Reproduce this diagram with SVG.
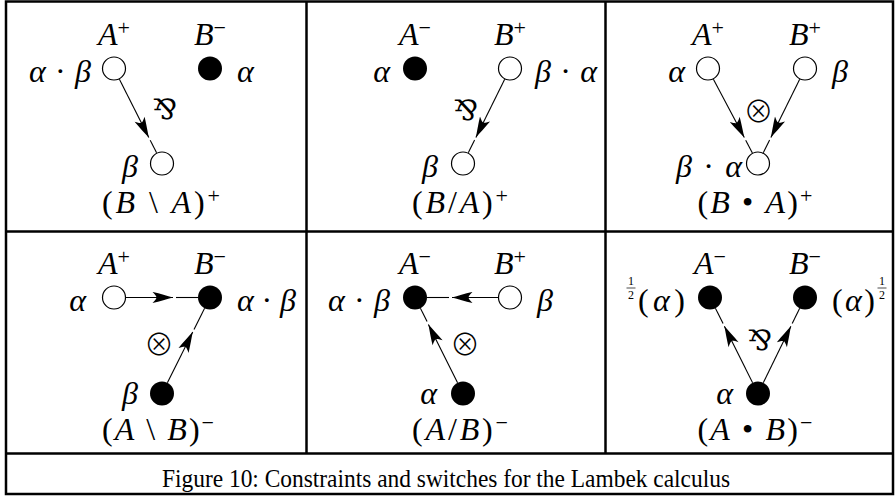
<svg xmlns="http://www.w3.org/2000/svg" width="896" height="496" viewBox="0 0 896 496">
<style>
.t{font-family:"Liberation Serif",serif;font-size:32px;fill:#000}
.i{font-style:italic}
.sup{font-size:22px}
.par{font-family:"DejaVu Serif","DejaVu Sans",serif;font-size:28px;fill:#000}
.ot{font-family:"Noto Sans CJK SC","DejaVu Sans",sans-serif;font-weight:300;font-size:30px;fill:#000}
.fr{font-family:"Liberation Serif",serif;font-size:12px;fill:#000}
.cap{font-family:"Liberation Serif",serif;font-size:25px;fill:#000}
.open{fill:#fff;stroke:#000;stroke-width:1.2}
.full{fill:#000}
.edge{stroke:#000;stroke-width:1.1;fill:none}
.ar{marker-end:url(#ah)}
.frame{stroke:#000;stroke-width:2.5;fill:none}
</style>
<defs>
<marker id="ah" viewBox="-22 -6 23 12" refX="0" refY="0" markerWidth="23" markerHeight="12" markerUnits="userSpaceOnUse" orient="auto">
<path d="M0,0 C-6,-1.7 -13,-3.8 -20.5,-5.6 C-17.5,-2.5 -16.5,-1 -16.5,0 C-16.5,1 -17.5,2.5 -20.5,5.6 C-13,3.8 -6,1.7 0,0 Z" fill="#000"/>
</marker>
</defs>
<rect width="896" height="496" fill="#fff"/>
<g id="frame" class="frame">
<rect x="6" y="1.5" width="887" height="492.5"/>
<line x1="6" y1="231.5" x2="893" y2="231.5"/>
<line x1="6" y1="453.5" x2="893" y2="453.5"/>
<line x1="306.5" y1="1.5" x2="306.5" y2="453.5"/>
<line x1="605.5" y1="1.5" x2="605.5" y2="453.5"/>
</g>
<g id="connectors">
<!-- cell 1 -->
<line class="edge ar" x1="119.4" y1="79.2" x2="148.8" y2="137.5"/>
<line class="edge" x1="150.2" y1="140.2" x2="156.6" y2="152.8"/>
<text class="par" x="165" y="119" text-anchor="middle">⅋</text>
<!-- cell 2 -->
<line class="edge ar" x1="504.7" y1="79.3" x2="475.9" y2="137.4"/>
<line class="edge" x1="474.6" y1="140.1" x2="468.3" y2="152.7"/>
<text class="par" x="466" y="120" text-anchor="middle">⅋</text>
<!-- cell 3 -->
<line class="edge ar" x1="713.4" y1="79.2" x2="744.3" y2="137.5"/>
<line class="edge" x1="745.7" y1="140.2" x2="752.4" y2="152.9"/>
<line class="edge ar" x1="799.7" y1="79.3" x2="770.9" y2="137.4"/>
<line class="edge" x1="769.6" y1="140.1" x2="763.3" y2="152.7"/>
<text class="ot" x="758.5" y="122" text-anchor="middle">⊗</text>
<!-- cell 4 -->
<line class="edge ar" x1="126" y1="297.5" x2="173" y2="297.5"/>
<line class="edge" x1="176" y1="297.5" x2="198" y2="297.5"/>
<line class="edge ar" x1="167.4" y1="382.8" x2="192.7" y2="332.1"/>
<line class="edge" x1="194" y1="329.4" x2="204.6" y2="308.2"/>
<text class="ot" x="159" y="355" text-anchor="middle">⊗</text>
<!-- cell 5 -->
<line class="edge ar" x1="498" y1="297.5" x2="452" y2="297.5"/>
<line class="edge" x1="449" y1="297.5" x2="427" y2="297.5"/>
<line class="edge ar" x1="457.6" y1="382.8" x2="428.4" y2="324.4"/>
<line class="edge" x1="427.1" y1="321.6" x2="420.4" y2="308.2"/>
<text class="ot" x="465" y="355" text-anchor="middle">⊗</text>
<!-- cell 6 -->
<line class="edge ar" x1="752.6" y1="382.8" x2="724.4" y2="326.3"/>
<line class="edge" x1="723.1" y1="323.6" x2="715.4" y2="308.2"/>
<line class="edge ar" x1="763.3" y1="382.7" x2="790.9" y2="326.3"/>
<line class="edge" x1="792.2" y1="323.6" x2="799.7" y2="308.3"/>
<text class="par" x="760" y="350" text-anchor="middle">⅋</text>
</g>
<!-- Cell 1 -->
<g id="c1-A">
<circle class="open" cx="114" cy="68.5" r="11.5"/>
<text class="t" x="114" y="45" text-anchor="middle"><tspan class="i">A</tspan><tspan class="sup" dy="-10">+</tspan></text>
<text class="t" x="91" y="82" text-anchor="end" textLength="62" lengthAdjust="spacing"><tspan class="i">α</tspan> · <tspan class="i">β</tspan></text>
</g>
<g id="c1-B">
<circle class="full" cx="210" cy="68.5" r="12"/>
<text class="t" x="210" y="45" text-anchor="middle"><tspan class="i">B</tspan><tspan class="sup" dy="-10">−</tspan></text>
<text class="t i" x="237" y="82">α</text>
</g>
<g id="c1-C">
<circle class="open" cx="162" cy="163.5" r="11.5"/>
<text class="t i" x="138" y="177" text-anchor="end">β</text>
<text class="t" x="161" y="213" text-anchor="middle" textLength="118" lengthAdjust="spacing">(<tspan class="i">B</tspan> \ <tspan class="i">A</tspan>)<tspan class="sup" dy="-10">+</tspan></text>
</g>
<!-- Cell 2 -->
<g id="c2-A">
<circle class="full" cx="415" cy="68.5" r="12"/>
<text class="t" x="415" y="45" text-anchor="middle"><tspan class="i">A</tspan><tspan class="sup" dy="-10">−</tspan></text>
<text class="t i" x="390" y="82" text-anchor="end">α</text>
</g>
<g id="c2-B">
<circle class="open" cx="510" cy="68.5" r="11.5"/>
<text class="t" x="510" y="45" text-anchor="middle"><tspan class="i">B</tspan><tspan class="sup" dy="-10">+</tspan></text>
<text class="t" x="535" y="82" textLength="62" lengthAdjust="spacing"><tspan class="i">β</tspan> · <tspan class="i">α</tspan></text>
</g>
<g id="c2-C">
<circle class="open" cx="463" cy="163.5" r="11.5"/>
<text class="t i" x="438" y="177" text-anchor="end">β</text>
<text class="t" x="460" y="213" text-anchor="middle" textLength="96" lengthAdjust="spacing">(<tspan class="i">B</tspan>/<tspan class="i">A</tspan>)<tspan class="sup" dy="-10">+</tspan></text>
</g>
<!-- Cell 3 -->
<g id="c3-A">
<circle class="open" cx="708" cy="68.5" r="11.5"/>
<text class="t" x="708" y="45" text-anchor="middle"><tspan class="i">A</tspan><tspan class="sup" dy="-10">+</tspan></text>
<text class="t i" x="685" y="82" text-anchor="end">α</text>
</g>
<g id="c3-B">
<circle class="open" cx="805" cy="68.5" r="11.5"/>
<text class="t" x="805" y="45" text-anchor="middle"><tspan class="i">B</tspan><tspan class="sup" dy="-10">+</tspan></text>
<text class="t i" x="832" y="82">β</text>
</g>
<g id="c3-C">
<circle class="open" cx="758" cy="163.5" r="11.5"/>
<text class="t" x="742" y="177" text-anchor="end" textLength="66" lengthAdjust="spacing"><tspan class="i">β</tspan> · <tspan class="i">α</tspan></text>
<text class="t" x="755" y="213" text-anchor="middle" textLength="115" lengthAdjust="spacing">(<tspan class="i">B</tspan> • <tspan class="i">A</tspan>)<tspan class="sup" dy="-10">+</tspan></text>
</g>
<!-- Cell 4 -->
<g id="c4-A">
<circle class="open" cx="114" cy="297.5" r="11.5"/>
<text class="t" x="114" y="274" text-anchor="middle"><tspan class="i">A</tspan><tspan class="sup" dy="-10">+</tspan></text>
<text class="t i" x="86" y="311" text-anchor="end">α</text>
</g>
<g id="c4-B">
<circle class="full" cx="210" cy="297.5" r="12"/>
<text class="t" x="210" y="274" text-anchor="middle"><tspan class="i">B</tspan><tspan class="sup" dy="-10">−</tspan></text>
<text class="t" x="237" y="311" textLength="59" lengthAdjust="spacing"><tspan class="i">α</tspan> · <tspan class="i">β</tspan></text>
</g>
<g id="c4-C">
<circle class="full" cx="162" cy="393.5" r="12"/>
<text class="t i" x="138" y="404" text-anchor="end">β</text>
<text class="t" x="158" y="440" text-anchor="middle" textLength="112" lengthAdjust="spacing">(<tspan class="i">A</tspan> \ <tspan class="i">B</tspan>)<tspan class="sup" dy="-10">−</tspan></text>
</g>
<!-- Cell 5 -->
<g id="c5-A">
<circle class="full" cx="415" cy="297.5" r="12"/>
<text class="t" x="415" y="274" text-anchor="middle"><tspan class="i">A</tspan><tspan class="sup" dy="-10">−</tspan></text>
<text class="t" x="390" y="311" text-anchor="end" textLength="62" lengthAdjust="spacing"><tspan class="i">α</tspan> · <tspan class="i">β</tspan></text>
</g>
<g id="c5-B">
<circle class="open" cx="510" cy="297.5" r="11.5"/>
<text class="t" x="510" y="274" text-anchor="middle"><tspan class="i">B</tspan><tspan class="sup" dy="-10">+</tspan></text>
<text class="t i" x="537" y="311">β</text>
</g>
<g id="c5-C">
<circle class="full" cx="463" cy="393.5" r="12"/>
<text class="t i" x="437" y="404" text-anchor="end">α</text>
<text class="t" x="460" y="440" text-anchor="middle" textLength="96" lengthAdjust="spacing">(<tspan class="i">A</tspan>/<tspan class="i">B</tspan>)<tspan class="sup" dy="-10">−</tspan></text>
</g>
<!-- Cell 6 -->
<g id="c6-A">
<circle class="full" cx="710" cy="297.5" r="12"/>
<text class="t" x="710" y="274" text-anchor="middle"><tspan class="i">A</tspan><tspan class="sup" dy="-10">−</tspan></text>
<text class="fr" x="631" y="285" text-anchor="middle">1</text>
<line x1="626.5" y1="288" x2="635.5" y2="288" stroke="#000" stroke-width="0.7"/>
<text class="fr" x="631" y="299" text-anchor="middle">2</text>
<text class="t" x="685" y="311" text-anchor="end" textLength="47" lengthAdjust="spacing">(<tspan class="i">α</tspan>)</text>
</g>
<g id="c6-B">
<circle class="full" cx="805" cy="297.5" r="12"/>
<text class="t" x="805" y="274" text-anchor="middle"><tspan class="i">B</tspan><tspan class="sup" dy="-10">−</tspan></text>
<text class="t" x="832" y="311" textLength="43" lengthAdjust="spacing">(<tspan class="i">α</tspan>)</text>
<text class="fr" x="882" y="285" text-anchor="middle">1</text>
<line x1="877.5" y1="288" x2="886.5" y2="288" stroke="#000" stroke-width="0.7"/>
<text class="fr" x="882" y="299" text-anchor="middle">2</text>
</g>
<g id="c6-C">
<circle class="full" cx="758" cy="393.5" r="12"/>
<text class="t i" x="733" y="404" text-anchor="end">α</text>
<text class="t" x="755" y="440" text-anchor="middle" textLength="115" lengthAdjust="spacing">(<tspan class="i">A</tspan> • <tspan class="i">B</tspan>)<tspan class="sup" dy="-10">−</tspan></text>
</g>
<text class="cap" x="162" y="487" textLength="568" lengthAdjust="spacingAndGlyphs">Figure 10: Constraints and switches for the Lambek calculus</text>
</svg>
